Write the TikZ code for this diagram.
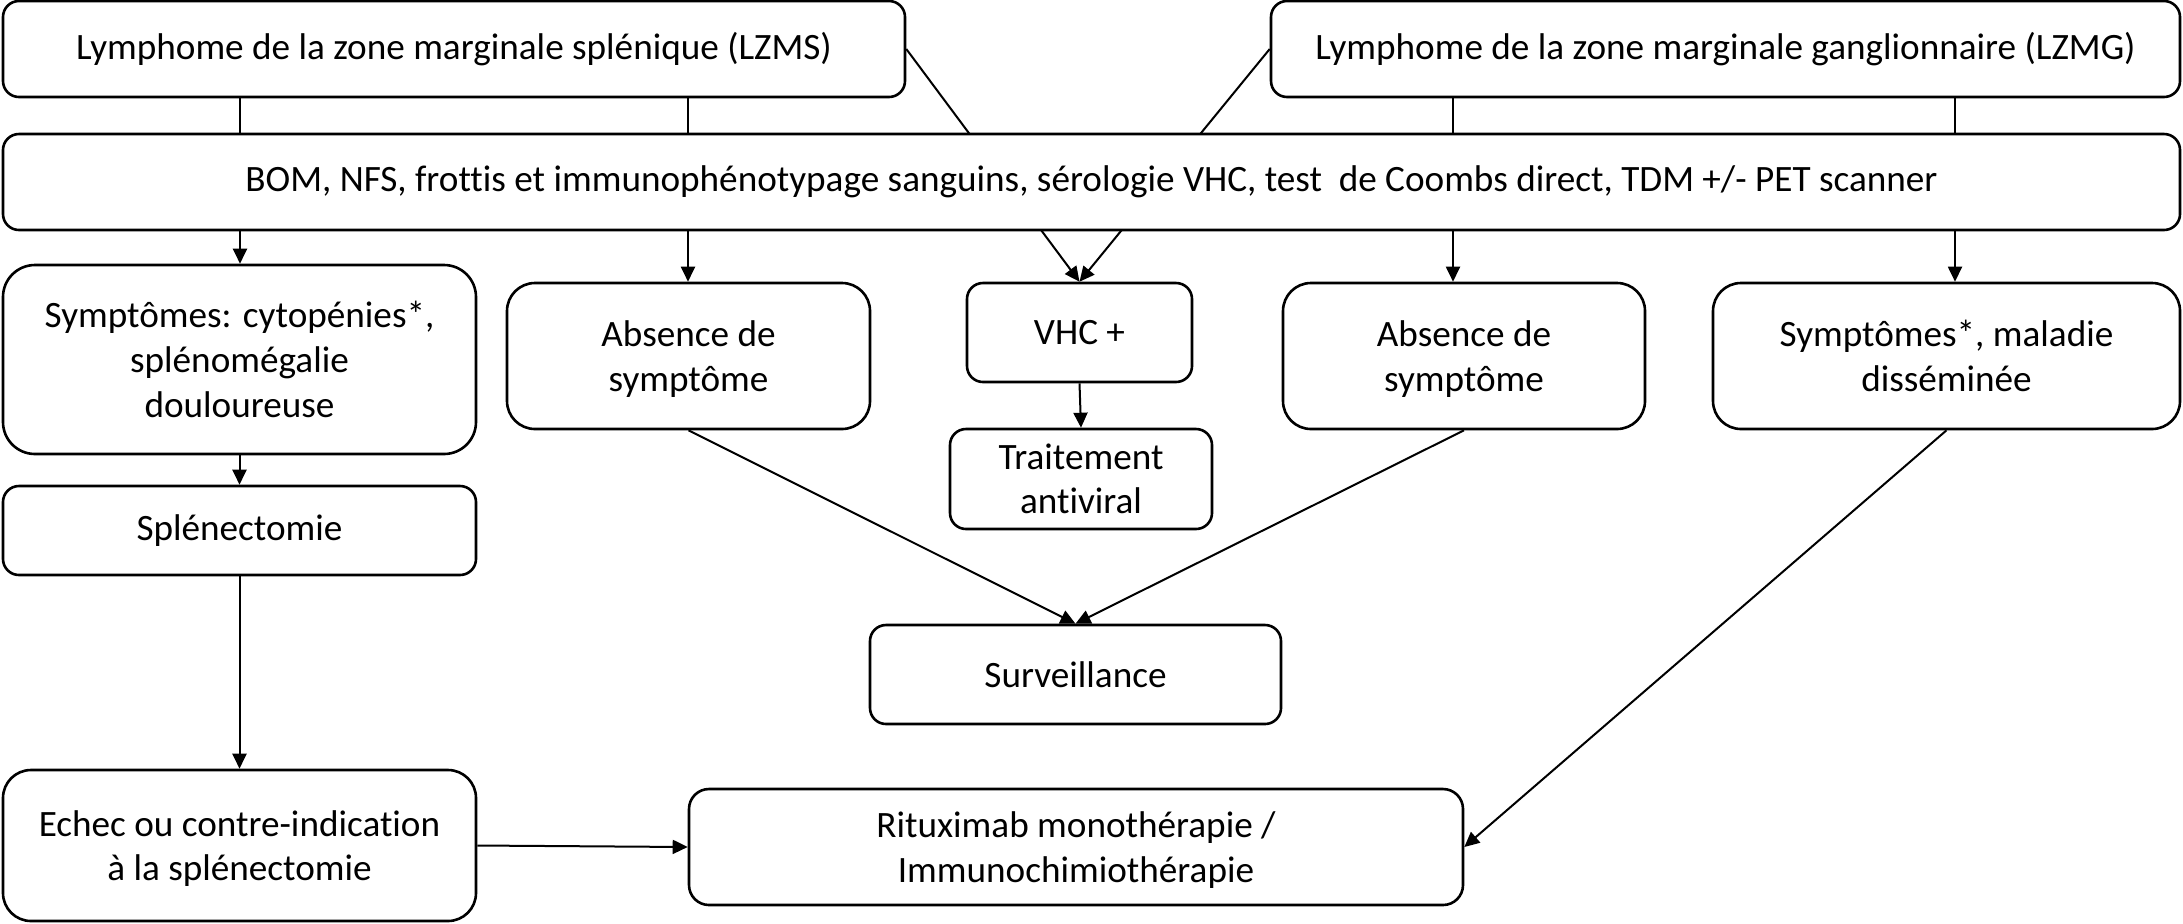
\documentclass[tikz,border=0pt]{standalone}
\usepackage{fontspec}
\setmainfont{Carlito}[Ligatures=NoCommon]
\usetikzlibrary{arrows.meta,backgrounds}
\newcommand\nodepthline[1]{\raisebox{0pt}[\height][0pt]{#1}}
\begin{document}
\begin{tikzpicture}[x=0.5pt,y=-0.5pt,
  box/.style={draw, line width=1.3pt, fill=white, align=center, inner sep=0pt,
    font=\fontsize{18.6}{22.3}\selectfont},
  conn/.style={line width=1pt},
  arr/.style={line width=1pt, -{Triangle[length=7.5pt,width=7pt]}}]
\useasboundingbox (0,0) rectangle (2183,923);

\node[box, minimum width=451pt, minimum height=48pt, rounded corners=8pt] (lzms) at (454,49)
  {Lymphome de la zone marginale splénique (LZMS)};
\node[box, minimum width=454.5pt, minimum height=48pt, rounded corners=8pt] (lzmg) at (1725.5,49)
  {Lymphome de la zone marginale ganglionnaire (LZMG)};
\node[box, minimum width=1088.5pt, minimum height=48pt, rounded corners=8pt] (bom) at (1091.5,182)
  {BOM, NFS, frottis et immunophénotypage sanguins, sérologie VHC, test~ de Coombs direct, TDM +/- PET scanner};
\node[box, minimum width=236.5pt, minimum height=94.5pt, rounded corners=16pt] (sym1) at (239.5,359.5)
  {Symptômes: cytopénies*,\\splénomégalie\\douloureuse};
\node[box, minimum width=181.5pt, minimum height=73pt, rounded corners=14pt] (abs1) at (688.5,356)
  {Absence de\\\nodepthline{symptôme}};
\node[box, minimum width=112.5pt, minimum height=49.5pt, rounded corners=8pt] (vhc) at (1079.5,332.5)
  {VHC +};
\node[box, minimum width=131pt, minimum height=50pt, rounded corners=8pt] (trt) at (1081,479)
  {Traitement\\antiviral};
\node[box, minimum width=181pt, minimum height=73pt, rounded corners=14pt] (abs2) at (1464,356)
  {Absence de\\\nodepthline{symptôme}};
\node[box, minimum width=233.5pt, minimum height=73pt, rounded corners=14pt] (sym2) at (1946.5,356)
  {Symptômes*, maladie\\disséminée};
\node[box, minimum width=236.5pt, minimum height=44.5pt, rounded corners=8pt] (splen) at (239.5,530.5)
  {Splénectomie};
\node[box, minimum width=205.5pt, minimum height=49.5pt, rounded corners=8pt] (surv) at (1075.5,674.5)
  {Surveillance};
\node[box, minimum width=236.5pt, minimum height=75.5pt, rounded corners=14pt] (echec) at (239.5,845.5)
  {Echec ou contre-indication\\\nodepthline{à la splénectomie}};
\node[box, minimum width=387pt, minimum height=58pt, rounded corners=10pt] (ritux) at (1076,847)
  {Rituximab monothérapie /\\\nodepthline{Immunochimiothérapie}};

\coordinate (xa) at (240,0);
\coordinate (xb) at (688,0);
\coordinate (xc) at (1453,0);
\coordinate (xd) at (1955,0);

\begin{scope}[on background layer]
  \draw[arr] (lzms.east) -- (vhc.north);
  \draw[arr] (lzmg.west) -- (vhc.north);
\end{scope}

\draw[conn] (lzms.south -| xa) -- (bom.north -| xa);
\draw[conn] (lzms.south -| xb) -- (bom.north -| xb);
\draw[conn] (lzmg.south -| xc) -- (bom.north -| xc);
\draw[conn] (lzmg.south -| xd) -- (bom.north -| xd);

\draw[arr] (bom.south -| xa) -- (sym1.north -| xa);
\draw[arr] (bom.south -| xb) -- (abs1.north -| xb);
\draw[arr] (bom.south -| xc) -- (abs2.north -| xc);
\draw[arr] (bom.south -| xd) -- (sym2.north -| xd);

\draw[arr] (vhc.south) -- (trt.north);
\draw[arr] (sym1.south) -- (splen.north);
\draw[arr] (splen.south) -- (echec.north);
\draw[arr] (abs1.south) -- (surv.north);
\draw[arr] (abs2.south) -- (surv.north);
\draw[arr] (echec.east) -- (ritux.west);
\draw[arr] (sym2.south) -- (ritux.east);
\end{tikzpicture}
\end{document}
